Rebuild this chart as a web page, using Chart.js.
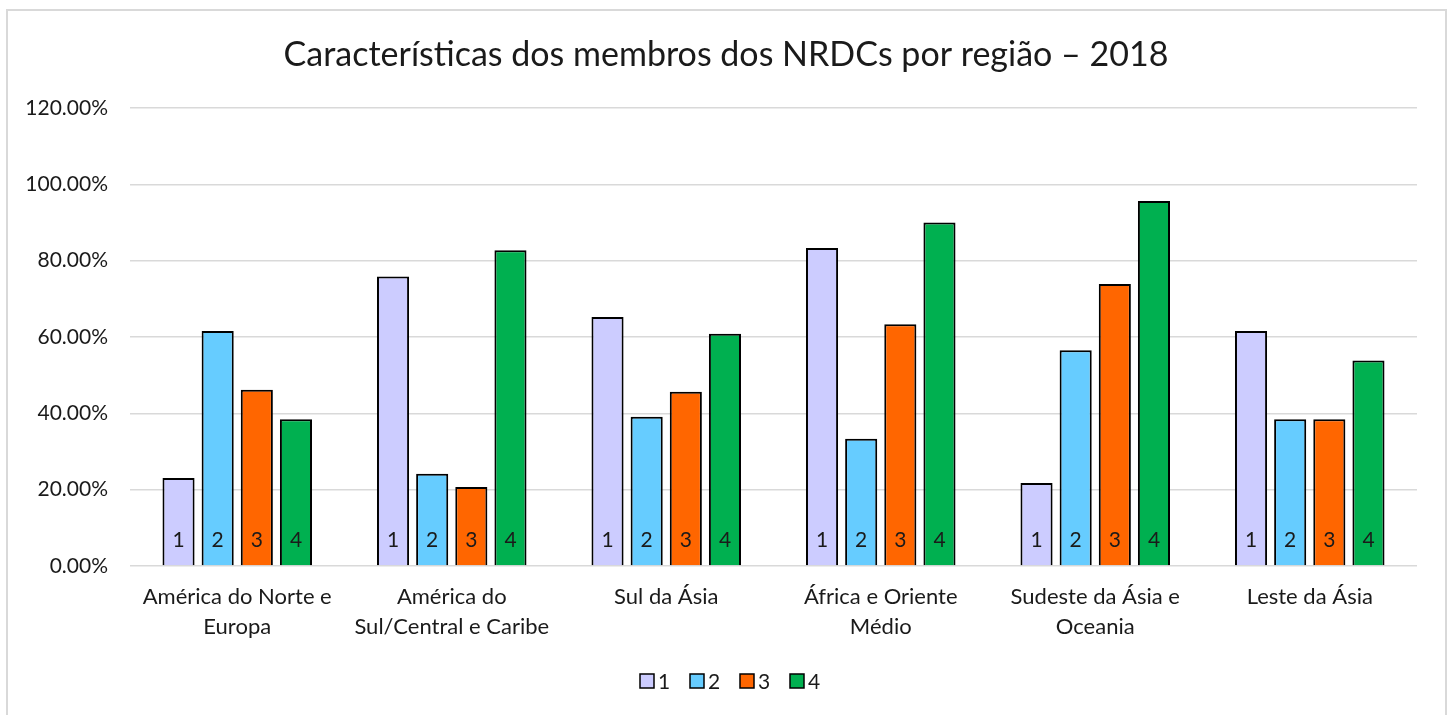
<html>
<head>
<meta charset="utf-8">
<title>Características dos membros dos NRDCs por região – 2018</title>
<script src="https://cdn.jsdelivr.net/npm/chart.js@4.4.1/dist/chart.umd.min.js"></script>
<style>
body { margin: 0; background: #fff; }
#wrap { position: relative; width: 1448px; height: 715px; }
</style>
</head>
<body>
<div id="wrap"><canvas id="regionChart" width="1448" height="715"></canvas></div>
<script>

// data (percent)
const chartTitle = 'Características dos membros dos NRDCs por região – 2018';
const regions = [
    ['América do Norte e', 'Europa'],
    ['América do', 'Sul/Central e Caribe'],
    'Sul da Ásia',
    ['África e Oriente', 'Médio'],
    ['Sudeste da Ásia e', 'Oceania'],
    'Leste da Ásia'
];
const seriesNames = ['1', '2', '3', '4'];
const serie1 = [23.08, 75.86, 65.22, 83.33, 21.74, 61.54];
const serie2 = [61.54, 24.14, 39.13, 33.33, 56.52, 38.46];
const serie3 = [46.15, 20.69, 45.65, 63.33, 73.91, 38.46];
const serie4 = [38.46, 82.76, 60.87, 90.00, 95.65, 53.85];
const yTicks = [0, 20, 40, 60, 80, 100, 120];

const colours = ['#CCCCFF', '#66CCFF', '#FF6600', '#00B050'];
const FONT = 'Lato, "Open Sans", sans-serif';
const TEXT = '#1a1a1a';

const allSeries = [serie1, serie2, serie3, serie4];
const datasets = [];
for (let i = 0; i < allSeries.length; i++) {
    datasets.push({
        label: seriesNames[i],
        data: allSeries[i],
        backgroundColor: colours[i],
        borderColor: '#000',
        borderWidth: 2,
        categoryPercentage: 0.73,
        barPercentage: 0.82
    });
}

// outer frame, title and legend placed like the spreadsheet chart
const framePlugin = {
    id: 'frame',
    beforeDraw(chart) {
        const c = chart.ctx;
        c.save();
        c.fillStyle = '#fff';
        c.fillRect(0, 0, chart.width, chart.height);
        c.strokeStyle = '#d9d9d9';
        c.lineWidth = 2;
        c.strokeRect(7, 10, 1439, 720);
        c.restore();
    },
    afterDraw(chart) {
        const c = chart.ctx;
        c.save();
        c.fillStyle = TEXT;
        c.textBaseline = 'middle';
        c.textAlign = 'center';
        c.font = '34px ' + FONT;
        c.fillText(chartTitle, 726, 55);

        // legend
        c.font = '21px ' + FONT;
        c.textAlign = 'left';
        chart.data.datasets.forEach((ds, i) => {
            const x = 640 + i * 50;
            c.fillStyle = ds.backgroundColor;
            c.fillRect(x, 674, 14, 14);
            c.strokeStyle = '#000';
            c.lineWidth = 1.5;
            c.strokeRect(x, 674, 14, 14);
            c.fillStyle = TEXT;
            c.fillText(ds.label, x + 18, 682);
        });
        c.restore();
    }
};

// series number written at the foot of each bar
const barNumbers = {
    id: 'barNumbers',
    afterDatasetsDraw(chart) {
        const c = chart.ctx;
        c.save();
        c.font = '21px ' + FONT;
        c.fillStyle = TEXT;
        c.textAlign = 'center';
        c.textBaseline = 'middle';
        chart.data.datasets.forEach((ds, i) => {
            const meta = chart.getDatasetMeta(i);
            meta.data.forEach(bar => {
                c.fillText(ds.label, bar.x, bar.base - 25);
            });
        });
        c.restore();
    }
};

const ctx = document.getElementById('regionChart').getContext('2d');
const regionChart = new Chart(ctx, {
    type: 'bar',
    data: { labels: regions, datasets: datasets },
    options: {
        responsive: false,
        animation: false,
        layout: { padding: { left: 10, right: 31, top: 108, bottom: 63 } },
        plugins: {
            title: { display: false },
            legend: { display: false },
            tooltip: { enabled: false }
        },
        scales: {
            x: {
                grid: { display: false },
                border: { display: false },
                ticks: {
                    color: TEXT,
                    font: { family: FONT, size: 22, lineHeight: 1.36 },
                    padding: 8,
                    maxRotation: 0,
                    autoSkip: false
                },
                afterFit(s) { s.height = 86; }
            },
            y: {
                min: yTicks[0],
                max: yTicks[yTicks.length - 1],
                afterBuildTicks(s) { s.ticks = yTicks.map(v => ({ value: v })); },
                grid: { color: '#d9d9d9', lineWidth: 1.5, drawTicks: false },
                border: { display: false },
                ticks: {
                    color: TEXT,
                    font: { family: FONT, size: 21 },
                    padding: 22,
                    callback: v => v.toFixed(2) + '%'
                },
                afterFit(s) { s.width = 120; }
            }
        }
    },
    plugins: [framePlugin, barNumbers]
});

</script>
</body>
</html>
